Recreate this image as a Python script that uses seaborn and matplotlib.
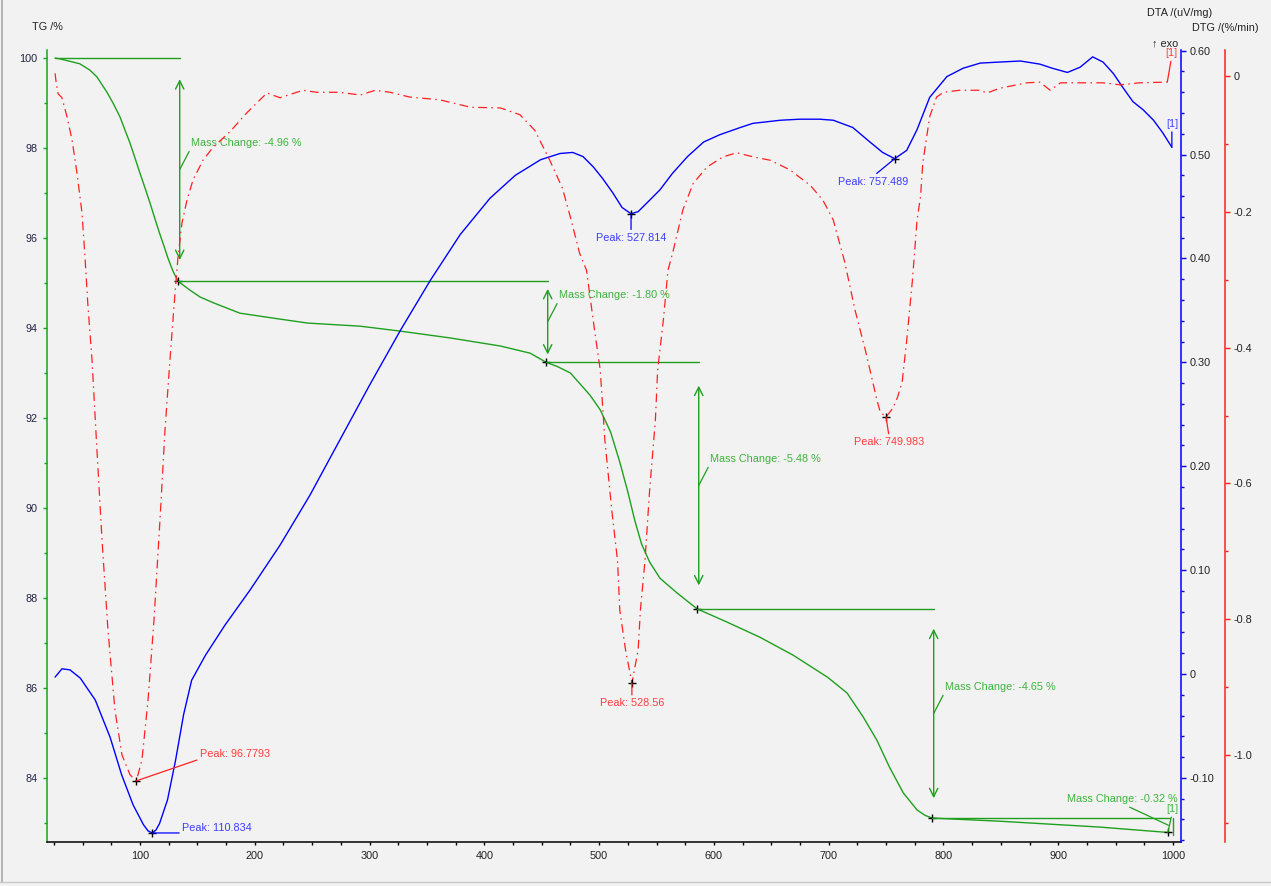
import matplotlib
matplotlib.use("Agg")
from matplotlib import pyplot as plt
from matplotlib.lines import Line2D
from matplotlib.ticker import MultipleLocator, FuncFormatter
import seaborn as sns

# TG curve: temperature (C) / mass (%)
tg_temp = [26, 30.3, 41.6, 47.7, 56.4, 62.5, 71.2, 76.5, 82.6, 86.9, 91.3, 95.6, 100, 104.4,
           108.7, 113.1, 117.4, 120.9, 124.4, 128.8, 133.1, 143.6, 152.3, 164, 187, 216, 246,
           292, 327, 370, 414, 440, 453.7, 464, 475, 492, 501, 510, 518, 525, 531, 537, 544, 553,
           568, 585.3, 611, 640, 669, 699, 716, 730, 742, 753, 765, 777, 784, 790, 849, 936,
           995.5]
tg_mass = [100.0, 99.98, 99.91, 99.87, 99.73, 99.58, 99.24, 99.0, 98.69, 98.4, 98.11, 97.78,
           97.44, 97.11, 96.78, 96.42, 96.08, 95.82, 95.55, 95.26, 95.04, 94.84, 94.69, 94.56,
           94.33, 94.22, 94.11, 94.04, 93.93, 93.78, 93.60, 93.44, 93.24, 93.14, 93.00, 92.51,
           92.18, 91.69, 91.02, 90.36, 89.73, 89.20, 88.80, 88.44, 88.11, 87.76, 87.47, 87.13,
           86.73, 86.24, 85.89, 85.36, 84.84, 84.24, 83.67, 83.29, 83.17, 83.11, 83.04, 82.91,
           82.79]

# DTA curve (uV/mg)
dta_temp = [26, 32, 39, 48, 61, 74, 84, 94, 103, 107, 110.8, 114, 117, 124, 131, 138, 145, 157,
            174, 196, 222, 248, 274, 300, 327, 353, 379, 405, 427, 449, 466, 477, 486, 495, 503,
            512, 520, 527.8, 534, 544, 553, 564, 577, 591, 605, 623, 634, 658, 675, 692, 704, 721,
            736, 747, 757.5, 768, 777, 788, 803, 817, 832, 849, 867, 884, 895, 908, 919, 930, 939,
            948, 956, 965, 974, 983, 991, 999]
dta_val = [-0.003, 0.005, 0.004, -0.004, -0.025, -0.061, -0.097, -0.126, -0.145, -0.151, -0.153,
           -0.150, -0.144, -0.121, -0.083, -0.039, -0.006, 0.018, 0.047, 0.081, 0.124, 0.172,
           0.225, 0.278, 0.331, 0.379, 0.423, 0.458, 0.480, 0.495, 0.501, 0.502, 0.498, 0.488,
           0.477, 0.463, 0.449, 0.443, 0.445, 0.456, 0.466, 0.482, 0.498, 0.512, 0.519, 0.526,
           0.530, 0.533, 0.534, 0.534, 0.533, 0.526, 0.512, 0.502, 0.496, 0.504, 0.524, 0.555,
           0.575, 0.583, 0.588, 0.589, 0.590, 0.587, 0.583, 0.579, 0.584, 0.594, 0.589, 0.578,
           0.565, 0.551, 0.543, 0.533, 0.521, 0.507]

# DTG curve (%/min)
dtg_temp = [26, 27, 28.6, 32, 36.4, 40.8, 45.1, 49.5, 52.1, 54.7, 58.2, 62.5, 66.9, 72.1, 78.2,
            84.3, 91.3, 96.8, 101.7, 107, 112.2, 117.4, 121.8, 126.1, 130.5, 133.1, 136.6, 140.9,
            146.2, 154.9, 163.6, 178.4, 193.2, 210.6, 222, 242, 254, 274, 292, 305, 318, 335, 361,
            388, 414, 431, 444, 457, 468, 475, 483, 489, 496, 501, 505, 511, 516, 518, 523, 528.6,
            534, 536, 540, 544, 549, 551, 556, 560, 564, 573, 582, 594, 608, 620, 634, 649, 666,
            684, 695, 704, 714, 723, 732, 739, 742, 745, 750, 756, 760, 764, 768, 773, 777, 780,
            782, 788, 794, 800, 814, 832, 838, 849, 873, 884, 893, 902, 919, 939, 954, 971, 995]
dtg_val = [0.004, -0.010, -0.026, -0.032, -0.060, -0.094, -0.143, -0.202, -0.267, -0.340, -0.418,
           -0.551, -0.683, -0.816, -0.934, -1.000, -1.029, -1.038, -1.007, -0.919, -0.801, -0.654,
           -0.521, -0.418, -0.320, -0.267, -0.216, -0.183, -0.153, -0.124, -0.105, -0.082, -0.054,
           -0.025, -0.032, -0.021, -0.024, -0.024, -0.028, -0.021, -0.024, -0.031, -0.035, -0.046,
           -0.047, -0.057, -0.080, -0.124, -0.165, -0.208, -0.261, -0.286, -0.374, -0.433, -0.536,
           -0.639, -0.713, -0.786, -0.845, -0.894, -0.845, -0.786, -0.713, -0.610, -0.507, -0.433,
           -0.359, -0.286, -0.261, -0.197, -0.158, -0.134, -0.119, -0.113, -0.119, -0.124, -0.138,
           -0.161, -0.183, -0.212, -0.274, -0.345, -0.404, -0.455, -0.477, -0.495, -0.502, -0.489,
           -0.473, -0.451, -0.389, -0.300, -0.212, -0.178, -0.128, -0.060, -0.031, -0.024, -0.021,
           -0.021, -0.025, -0.018, -0.010, -0.009, -0.021, -0.010, -0.010, -0.010, -0.013, -0.010,
           -0.009]

# mass loss steps
step_temp = [26, 133.1, 453.7, 585.3, 790.0, 995.5]
step_mass = [100.0, 95.04, 93.24, 87.76, 83.11, 82.79]

# peaks
dta_peak_temp = [110.834, 527.814, 757.489]
dta_peak_val = [-0.153, 0.443, 0.496]
dtg_peak_temp = [96.7793, 528.56, 749.983]
dtg_peak_val = [-1.038, -0.894, -0.502]

GREEN = "#1ea01e"
GREEN_TXT = "#3cb43c"
BLUE = "#0000ff"
BLUE_TXT = "#3c3cff"
RED = "#ff2020"
RED_TXT = "#ff3c3c"
BG = "#f2f2f2"
FS = 7.8

sns.set_style("white", {"axes.facecolor": BG, "figure.facecolor": BG})
plt.rcParams["font.family"] = ["Liberation Sans", "DejaVu Sans"]

fig = plt.figure(figsize=(12.71, 8.86), dpi=100)
W, H = 1271, 886
ax = fig.add_axes([47 / W, 1 - 842 / H, (1181 - 47) / W, (842 - 50) / H])
ax2 = ax.twinx()
ax3 = ax.twinx()

sns.lineplot(x=tg_temp, y=tg_mass, ax=ax, color=GREEN, lw=1.0, estimator=None, sort=False)
sns.lineplot(x=dta_temp, y=dta_val, ax=ax2, color=BLUE, lw=1.0, estimator=None, sort=False)
sns.lineplot(x=dtg_temp, y=dtg_val, ax=ax3, color=RED, lw=0.9, estimator=None, sort=False,
             linestyle=(0, (7, 3.5, 1.2, 3.5)))

ax.set_xlim(18.98, 1006.96)
ax.set_ylim(82.578, 100.178)
ax2.set_ylim(-0.1617, 0.6006)
ax3.set_ylim(-1.128, 0.0383)

# spines
for a in (ax, ax2, ax3):
    a.set_xlabel("")
    a.set_ylabel("")
    a.spines["top"].set_visible(False)
ax.spines["right"].set_visible(False)
ax.spines["left"].set_color(GREEN)
ax.spines["left"].set_linewidth(1.1)
ax.spines["bottom"].set_color("black")
ax.spines["bottom"].set_linewidth(1.1)
for a, c in ((ax2, BLUE), (ax3, RED)):
    a.spines["left"].set_visible(False)
    a.spines["bottom"].set_visible(False)
    a.spines["right"].set_color(c)
    a.spines["right"].set_linewidth(1.1)
ax3.spines["right"].set_position(("outward", 44 * 0.72))

# ticks
ax.xaxis.set_major_locator(MultipleLocator(100))
ax.xaxis.set_minor_locator(MultipleLocator(25))
ax.yaxis.set_major_locator(MultipleLocator(2))
ax.yaxis.set_minor_locator(MultipleLocator(1))
ax.xaxis.set_major_formatter(FuncFormatter(lambda v, p: f"{v:.0f}"))
ax.yaxis.set_major_formatter(FuncFormatter(lambda v, p: f"{v:.0f}"))
ax2.yaxis.set_major_locator(MultipleLocator(0.1))
ax2.yaxis.set_minor_locator(MultipleLocator(0.02))
ax2.yaxis.set_major_formatter(FuncFormatter(lambda v, p: "0" if abs(v) < 1e-9 else f"{v:.2f}"))
ax3.yaxis.set_major_locator(MultipleLocator(0.2))
ax3.yaxis.set_minor_locator(MultipleLocator(0.1))
ax3.yaxis.set_major_formatter(FuncFormatter(lambda v, p: "0" if abs(v) < 1e-9 else f"{v:.1f}"))

ax.tick_params(axis="x", which="both", direction="out", length=2.5, width=1, color="black",
               labelsize=FS, labelcolor="#222222", pad=4, bottom=True)
ax.tick_params(axis="y", which="major", direction="out", length=3, width=1, color=GREEN,
               labelsize=FS, labelcolor="#222244", pad=4, left=True)
ax.tick_params(axis="y", which="minor", direction="out", length=2, width=1, color=GREEN, left=True)
for a, c in ((ax2, BLUE), (ax3, RED)):
    a.tick_params(axis="y", which="major", direction="out", length=3.5, width=1, color=c,
                  labelsize=FS, labelcolor="#222222", pad=2.5, right=True)
    a.tick_params(axis="y", which="minor", direction="out", length=2, width=1, color=c, right=True)

# mass change annotations
for i in range(len(step_temp) - 1):
    x_arrow = step_temp[i + 1] + 1.5
    top, bot = step_mass[i], step_mass[i + 1]
    d = top - bot
    ax.plot([step_temp[i], x_arrow], [top, top], color=GREEN, lw=1.0)
    label = f"Mass Change: -{d:.2f} %"
    if i < len(step_temp) - 2:
        y1, y2 = top - 0.095 * d, bot + 0.095 * d
        ax.annotate("", xy=(x_arrow, y2), xytext=(x_arrow, y1),
                    arrowprops=dict(arrowstyle="<->, head_length=0.6, head_width=0.3",
                                    color=GREEN, lw=1.0, shrinkA=0, shrinkB=0, mutation_scale=10))
        mid = (y1 + y2) / 2
        ax.annotate(label, xy=(x_arrow, mid), xytext=(8, 19), textcoords="offset points",
                    ha="left", va="center", fontsize=FS, color=GREEN_TXT,
                    arrowprops=dict(arrowstyle="-", color=GREEN, lw=0.9, relpos=(0, 0),
                                    shrinkA=0, shrinkB=0))
    else:
        ax.plot([x_arrow + 3, x_arrow + 3], [top, bot - 0.05], color=GREEN, lw=1.0)
        mid = (top + bot) / 2
        ax.annotate(label, xy=(x_arrow - 1, mid), xytext=(-33, 19), textcoords="offset points",
                    ha="center", va="center", fontsize=FS, color=GREEN_TXT,
                    arrowprops=dict(arrowstyle="-", color=GREEN, lw=0.9, relpos=(0.5, 0),
                                    shrinkA=0, shrinkB=0))
    ax.plot(step_temp[i + 1], bot, "+", color="black", ms=6, mew=1.0)

# peaks
dta_offsets = [((21.6, 3.6), "left", (0, 0)), ((0, -17.3), "center", (0.5, 1)),
               ((-15.8, -16.6), "center", (0.5, 1))]
dtg_offsets = [((46, 19.4), "left", (0, 0)), ((0, -14.4), "center", (0.5, 1)),
               ((2.2, -18), "center", (0.5, 1))]
for a, temps, vals, offs, lc, tc in ((ax2, dta_peak_temp, dta_peak_val, dta_offsets, BLUE, BLUE_TXT),
                                     (ax3, dtg_peak_temp, dtg_peak_val, dtg_offsets, RED, RED_TXT)):
    for t, v, (off, ha, rp) in zip(temps, vals, offs):
        a.annotate(f"Peak: {t}", xy=(t, v), xytext=off, textcoords="offset points",
                   ha=ha, va="center", fontsize=FS, color=tc,
                   arrowprops=dict(arrowstyle="-", color=lc, lw=0.9, relpos=rp,
                                   shrinkA=0, shrinkB=0))
        a.plot(t, v, "+", color="black", ms=6, mew=1.0)

# curve end markers [1]
for a, x, y, off, lc, tc in ((ax, tg_temp[-1], tg_mass[-1], (3, 17), GREEN, GREEN_TXT),
                             (ax2, dta_temp[-1], dta_val[-1], (0, 17), BLUE, BLUE_TXT),
                             (ax3, dtg_temp[-1], dtg_val[-1], (3, 21), RED, RED_TXT)):
    a.annotate("[1]", xy=(x, y), xytext=off, textcoords="offset points", ha="center",
               va="center", fontsize=FS, color=tc,
               arrowprops=dict(arrowstyle="-", color=lc, lw=0.9, relpos=(0.5, 0),
                               shrinkA=0, shrinkB=0))

# axis titles
fig.text(32 / W, 1 - 27 / H, "TG /%", fontsize=FS, color="#222222", ha="left", va="center")
fig.text(1147 / W, 1 - 13 / H, "DTA /(uV/mg)", fontsize=FS, color="#222222", ha="left", va="center")
fig.text(1192 / W, 1 - 28 / H, "DTG /(%/min)", fontsize=FS, color="#222222", ha="left", va="center")
fig.text(1152 / W, 1 - 43 / H, "\u2191 exo", fontsize=FS, color="#222222", ha="left", va="center")

# window frame
fig.add_artist(Line2D([2 / W, 2 / W], [1 - 882 / H, 1], transform=fig.transFigure,
                      color="#a8a8a8", lw=1.2))
fig.add_artist(Line2D([0, 1], [1 - 882 / H, 1 - 882 / H], transform=fig.transFigure,
                      color="#c8c8c8", lw=1.0))

fig.savefig("out.png", dpi=100, facecolor=BG)
